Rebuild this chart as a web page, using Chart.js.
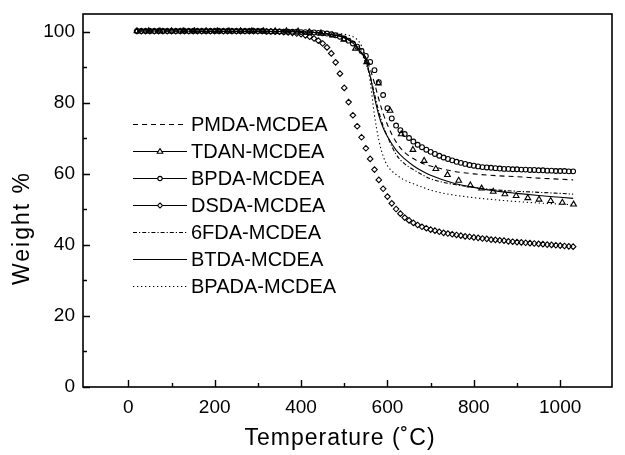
<!DOCTYPE html>
<html>
<head>
<meta charset="utf-8">
<script src="https://cdn.jsdelivr.net/npm/chart.js@4.4.1/dist/chart.umd.min.js"></script>
<style>
  html, body { margin: 0; padding: 0; background: #fff; }
  #wrap { width: 625px; height: 455px; }
</style>
</head>
<body>
<div id="wrap"><canvas id="tgaChart" width="625" height="455"></canvas></div>
<script>
// tick labels
const tempTicks = [0, 200, 400, 600, 800, 1000];
const tempMinor = [100, 300, 500, 700, 900];
const weightTicks = [0, 20, 40, 60, 80, 100];
const weightMinor = [10, 30, 50, 70, 90];

const seriesNames = ['PMDA-MCDEA', 'TDAN-MCDEA', 'BPDA-MCDEA', 'DSDA-MCDEA', '6FDA-MCDEA', 'BTDA-MCDEA', 'BPADA-MCDEA'];

// temperatures for the plain line curves
const tempLine = [20, 100, 200, 300, 400, 450, 500, 520, 530, 540, 550, 560, 570, 580, 590, 600,
  620, 640, 660, 680, 700, 750, 800, 850, 900, 950, 1000, 1030];
const pmdaWeight = [100.2, 100.2, 100.1, 100.1, 100, 99.6, 98.5, 97.3, 96.3, 94.8, 92.5, 89.5, 85.5, 81, 77, 73.8,
  69, 66, 64.3, 63, 62.2, 60.8, 60, 59.5, 59.2, 58.8, 58.5, 58.3];
const fdaWeight = [100.2, 100.2, 100.1, 100.1, 100, 99.5, 98.5, 97, 95.8, 94, 91, 87.5, 82.5, 77.5, 73.5, 70.5,
  65.5, 62.8, 61.2, 59.8, 58.6, 57.1, 56.2, 55.5, 55.1, 54.8, 54.5, 54.3];
const btdaWeight = [100.2, 100.2, 100.1, 100.1, 100, 99.5, 98.3, 96.8, 95.6, 94, 92, 87.5, 81.5, 76.5, 73, 70.5,
  66.7, 64.2, 62.3, 60.8, 59.6, 57.5, 56.2, 55.2, 54.5, 53.9, 53.4, 53.1];
const bpadaWeight = [100.3, 100.3, 100.2, 100.2, 100.1, 99.8, 99.3, 98.6, 97.8, 96, 92.5, 86, 76.5, 69.5, 65, 62.3,
  59.8, 58.2, 57.2, 56.3, 55.4, 54.1, 53.3, 52.7, 52.2, 51.8, 51.5, 51.3];

// temperatures for the circle / diamond symbols
const tempDense = [20, 30, 40, 50, 60, 70, 80, 90, 100, 110, 120, 130, 140, 150, 160, 170, 180, 190, 200,
  210, 220, 230, 240, 250, 260, 270, 280, 290, 300, 310, 320, 330, 340, 350, 360, 370, 380, 390, 400,
  410, 420, 430, 440, 450, 460, 470, 480, 490, 500, 510, 520, 530, 540, 550, 560, 570, 580, 590, 600,
  610, 620, 630, 640, 650, 660, 670, 680, 690, 700, 710, 720, 730, 740, 750, 760, 770, 780, 790, 800,
  810, 820, 830, 840, 850, 860, 870, 880, 890, 900, 910, 920, 930, 940, 950, 960, 970, 980, 990, 1000,
  1010, 1020, 1030];
const bpdaWeight = [100.2, 100.2, 100.2, 100.2, 100.2, 100.2, 100.2, 100.2, 100.2, 100.2, 100.2, 100.2, 100.2, 100.2, 100.2, 100.2, 100.2, 100.2, 100.2,
  100.2, 100.2, 100.2, 100.2, 100.2, 100.2, 100.2, 100.2, 100.2, 100.2, 100.2, 100.1, 100.1, 100.1, 100.1, 100.0, 100.0, 100.0, 100.0, 99.9,
  99.9, 99.8, 99.8, 99.7, 99.6, 99.5, 99.3, 99.0, 98.6, 98.1, 97.5, 96.7, 95.8, 94.6, 93.2, 91.5, 89.2, 85.8, 82.2, 78.5,
  75.6, 73.6, 72.3, 71.2, 70.1, 69.1, 68.2, 67.5, 66.8, 66.2, 65.6, 65.1, 64.6, 64.2, 63.8, 63.4, 63.1, 62.8, 62.5, 62.3,
  62.1, 61.9, 61.8, 61.7, 61.6, 61.5, 61.4, 61.4, 61.3, 61.3, 61.2, 61.2, 61.1, 61.1, 61.0, 61.0, 60.9, 60.9, 60.8, 60.8,
  60.8, 60.7, 60.7];
const dsdaWeight = [100.2, 100.2, 100.2, 100.2, 100.2, 100.2, 100.2, 100.2, 100.2, 100.2, 100.2, 100.2, 100.2, 100.2, 100.2, 100.2, 100.2, 100.2, 100.2,
  100.2, 100.2, 100.2, 100.2, 100.2, 100.2, 100.2, 100.2, 100.2, 100.2, 100.2, 100.1, 100.1, 100.0, 100.0, 99.9, 99.8, 99.7, 99.5, 99.3,
  99.0, 98.6, 98.1, 97.5, 96.7, 95.6, 93.9, 91.4, 88.2, 84.2, 80.2, 76.5, 73.4, 70.3, 67.2, 64.2, 61.2, 58.3, 55.8, 53.6,
  51.7, 50.1, 48.8, 47.7, 46.9, 46.2, 45.6, 45.1, 44.7, 44.3, 44.0, 43.7, 43.4, 43.2, 43.0, 42.8, 42.6, 42.4, 42.3, 42.1,
  42.0, 41.8, 41.7, 41.5, 41.4, 41.3, 41.2, 41.0, 40.9, 40.8, 40.7, 40.6, 40.5, 40.4, 40.3, 40.2, 40.1, 40.0, 39.9, 39.8,
  39.7, 39.6, 39.5];

// temperatures for the triangle symbols
const tempTdan = [20, 47, 73, 100, 127, 153, 180, 206, 233, 260, 286, 313, 340, 366, 393, 419, 446, 473, 499, 526,
  552, 579, 606, 632, 659, 685, 712, 739, 765, 792, 818, 845, 872, 898, 925, 951, 978, 1005, 1031];
const tdanWeight = [100.2, 100.2, 100.2, 100.2, 100.2, 100.2, 100.2, 100.2, 100.2, 100.2, 100.2, 100.2, 100.2, 100.2, 100.1, 99.9, 99.6, 99.0, 97.8, 95.3,
  91.5, 85.5, 77.8, 71.2, 66.8, 63.7, 61.4, 59.7, 58.1, 56.8, 55.9, 55.0, 54.3, 53.8, 53.2, 52.8, 52.4, 51.9, 51.4];

function pts(xs, ys) {
  return xs.map(function (x, i) { return { x: x, y: ys[i] }; });
}

const FONT = '"Liberation Sans", Arial, Helvetica, sans-serif';

function lineSet(name, xs, ys, dash) {
  return {
    label: name, data: pts(xs, ys), showLine: true, borderColor: '#000', borderWidth: 1.1,
    borderDash: dash, pointRadius: 0, cubicInterpolationMode: 'monotone', fill: false
  };
}
function symbolSet(name, xs, ys, style, r) {
  return {
    label: name, data: pts(xs, ys), showLine: false, pointStyle: style, pointRadius: r,
    pointBorderColor: '#000', pointBackgroundColor: 'rgba(0,0,0,0)', pointBorderWidth: 1.1
  };
}

const datasets = [
  lineSet(seriesNames[0], tempLine, pmdaWeight, [5, 4]),
  symbolSet(seriesNames[1], tempTdan, tdanWeight, 'triangle', 3.3),
  symbolSet(seriesNames[2], tempDense, bpdaWeight, 'circle', 2.4),
  symbolSet(seriesNames[3], tempDense, dsdaWeight, 'rectRot', 2.8),
  lineSet(seriesNames[4], tempLine, fdaWeight, [4, 2, 1.2, 2]),
  lineSet(seriesNames[5], tempLine, btdaWeight, []),
  lineSet(seriesNames[6], tempLine, bpadaWeight, [1.3, 2.7])
];

function drawMarker(ctx, style, x, y, r) {
  ctx.beginPath();
  if (style === 'circle') {
    ctx.arc(x, y, r, 0, Math.PI * 2);
  } else if (style === 'rectRot') {
    ctx.moveTo(x, y - r); ctx.lineTo(x + r, y); ctx.lineTo(x, y + r); ctx.lineTo(x - r, y); ctx.closePath();
  } else if (style === 'triangle') {
    ctx.moveTo(x, y - r); ctx.lineTo(x + r * 0.95, y + r * 0.6); ctx.lineTo(x - r * 0.95, y + r * 0.6); ctx.closePath();
  }
  ctx.fillStyle = '#fff';
  ctx.fill();
  ctx.stroke();
}

// frame, inward ticks, legend and axis titles
const decorPlugin = {
  id: 'decor',
  afterDraw: function (chart) {
    const ctx = chart.ctx, a = chart.chartArea;
    const xs = chart.scales.x, ys = chart.scales.y;
    ctx.save();
    ctx.strokeStyle = '#000';
    ctx.lineWidth = 1.6;
    ctx.setLineDash([]);
    ctx.strokeRect(a.left, a.top, a.right - a.left, a.bottom - a.top);

    ctx.lineWidth = 1.4;
    ctx.beginPath();
    tempTicks.concat(tempMinor).forEach(function (v) {
      const len = tempTicks.indexOf(v) >= 0 ? 7 : 4;
      const x = Math.round(xs.getPixelForValue(v)) + 0.5;
      ctx.moveTo(x, a.bottom); ctx.lineTo(x, a.bottom - len);
    });
    weightTicks.concat(weightMinor).forEach(function (v) {
      const len = weightTicks.indexOf(v) >= 0 ? 7 : 4;
      const y = Math.round(ys.getPixelForValue(v)) + 0.5;
      ctx.moveTo(a.left, y); ctx.lineTo(a.left + len, y);
    });
    ctx.stroke();

    // legend
    ctx.font = '20px ' + FONT;
    ctx.textBaseline = 'middle';
    ctx.textAlign = 'left';
    ctx.fillStyle = '#000';
    chart.data.datasets.forEach(function (ds, i) {
      const y = 124.5 + 27 * i;
      ctx.lineWidth = 1.1;
      ctx.setLineDash(ds.showLine ? ds.borderDash : []);
      ctx.beginPath();
      ctx.moveTo(133, y); ctx.lineTo(187, y);
      ctx.stroke();
      ctx.setLineDash([]);
      if (!ds.showLine) drawMarker(ctx, ds.pointStyle, 160, y, ds.pointRadius * 0.9);
      ctx.fillStyle = '#000';
      ctx.fillText(ds.label, 191, y + 1);
    });

    // axis titles
    ctx.font = '23px ' + FONT;
    ctx.textAlign = 'center';
    ctx.letterSpacing = '1px';
    ctx.fillText('Temperature (\u02DAC)', 340, 439);
    ctx.translate(23, 228);
    ctx.rotate(-Math.PI / 2);
    ctx.letterSpacing = '2px';
    ctx.fillText('Weight %', 0, 0);
    ctx.restore();
  }
};

new Chart(document.getElementById('tgaChart').getContext('2d'), {
  type: 'scatter',
  data: { datasets: datasets },
  options: {
    responsive: false,
    animation: false,
    layout: { padding: { top: 14, right: 13, left: 0, bottom: 0 } },
    plugins: { legend: { display: false }, tooltip: { enabled: false } },
    scales: {
      x: {
        type: 'linear', min: -105, max: 1120,
        afterBuildTicks: function (s) { s.ticks = tempTicks.map(function (v) { return { value: v }; }); },
        afterFit: function (s) { s.height = 68; s.paddingLeft = 0; s.paddingRight = 0; },
        grid: { display: false, drawTicks: false },
        border: { display: false },
        ticks: {
          color: '#000', padding: 9, maxRotation: 0, font: { size: 19, family: FONT },
          callback: function (v) { return String(v); }
        }
      },
      y: {
        type: 'linear', min: 0, max: 105,
        afterBuildTicks: function (s) { s.ticks = weightTicks.map(function (v) { return { value: v }; }); },
        afterFit: function (s) { s.width = 83; s.paddingTop = 0; s.paddingBottom = 0; },
        grid: { display: false, drawTicks: false },
        border: { display: false },
        ticks: {
          color: '#000', padding: 8, font: { size: 19, family: FONT },
          callback: function (v) { return String(v); }
        }
      }
    }
  },
  plugins: [decorPlugin]
});
</script>
</body>
</html>
